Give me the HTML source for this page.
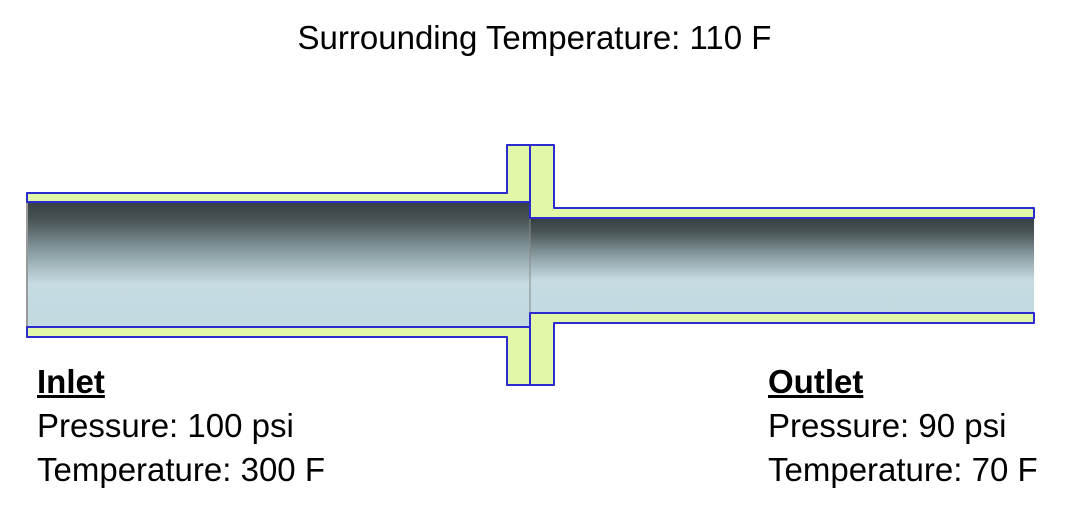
<!DOCTYPE html>
<html><head><style>
body{margin:0;width:1069px;height:516px;background:#fff;overflow:hidden;font-family:"Liberation Sans",sans-serif;}
svg{position:absolute;left:0;top:0}
.t{position:absolute;font-size:33px;color:#000;line-height:44px;white-space:nowrap;transform-origin:left top}
</style></head><body>
<svg width="1069" height="516">
<defs>
<linearGradient id="g" x1="0" y1="0" x2="0" y2="1">
<stop offset="0" stop-color="#363e40"/>
<stop offset="0.15" stop-color="#4a5557"/>
<stop offset="0.4" stop-color="#8a9ea2"/>
<stop offset="0.65" stop-color="#c6dbe2"/>
<stop offset="1" stop-color="#c2dae1"/>
</linearGradient>
</defs>
<rect x="27" y="202" width="503" height="125" fill="url(#g)"/>
<rect x="530" y="218" width="504" height="95" fill="url(#g)"/>
<line x1="27" y1="202" x2="27" y2="327" stroke="#999" stroke-width="2"/>
<line x1="530" y1="202" x2="530" y2="327" stroke="#888" stroke-width="1"/>
<g fill="#e3f7a9" stroke="#2b2bd0" stroke-width="2" stroke-linejoin="round">
<polygon points="27,193 507,193 507,145 530,145 530,202 27,202"/>
<polygon points="27,327 530,327 530,385 507,385 507,337 27,337"/>
<polygon points="530,145 554,145 554,208 1034,208 1034,218 530,218"/>
<polygon points="530,313 1034,313 1034,323 554,323 554,385 530,385"/>
</g>
</svg>
<div class="t" style="left:0;width:1069px;text-align:center;top:16px;font-size:33px">Surrounding Temperature: 110 F</div>
<div class="t" style="left:37px;top:360px"><b><u>Inlet</u></b><br>Pressure: 100 psi<br>Temperature: 300 F</div>
<div class="t" style="left:768px;top:360px"><b><u>Outlet</u></b><br>Pressure: 90 psi<br>Temperature: 70 F</div>
</body></html>
